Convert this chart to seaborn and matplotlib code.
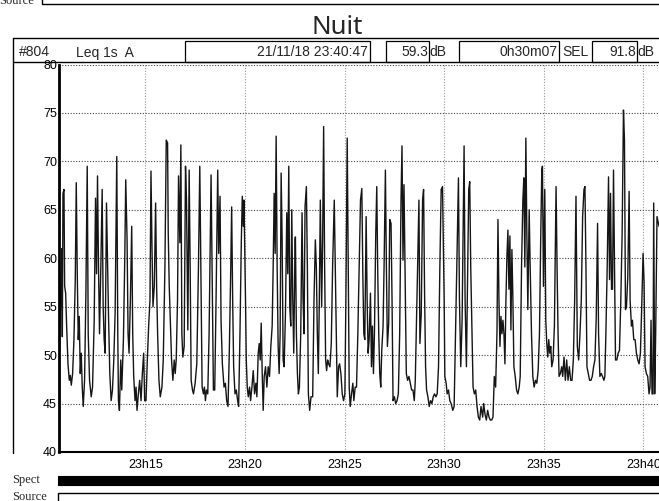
import numpy as np
import pandas as pd
import matplotlib
matplotlib.use("Agg")
import matplotlib.pyplot as plt
import seaborn as sns
from matplotlib.patches import Rectangle
from matplotlib.lines import Line2D

# ---------------- data (elapsed seconds from 23:10:40, Leq 1s A in dB) ----------------
t1 = [0,6,8,10,12,15,17,20,23,27,31,34,37,41,45,49,52,55,58,61,64,67,70,73,77,81,85,88,92,97,
      101,106,110,113,116,119,122,126,130,133,136,139,143,146,149,153,157,161,165,169,174,177,179,
      182,186,189,194,198,201,205,208,211,215,219,222,225,229,232,235,239,243,247,251,255,258,262,
      266,270,274,277,280,283,287,291,294,297,301,305,310,314,319,323,327,329,332,336,339,343,347]
db1 = [49.5,57.1,61.0,51.9,66.7,67.1,57.1,56.4,53.0,49.1,47.4,47.9,46.9,48.1,51.6,57.8,67.8,58.4,
       51.6,54.0,48.1,50.2,46.7,44.7,47.4,56.4,69.5,52.2,47.4,45.7,46.7,53.6,66.2,58.4,68.5,59.1,
       52.2,59.1,67.1,55.0,51.6,50.2,65.7,59.8,54.3,48.1,45.3,46.4,49.5,54.3,70.5,52.2,45.3,44.3,
       49.5,46.4,51.6,59.8,68.1,61.9,52.2,50.2,55.7,63.3,52.2,47.8,45.3,46.7,44.3,46.0,47.4,45.3,
       48.1,50.2,45.3,45.3,49.5,53.0,55.7,69.0,61.2,55.0,57.1,65.7,57.1,52.2,47.4,45.7,46.7,49.5,
       59.1,72.2,71.9,62.6,57.1,52.6,49.5,47.4,49.5]

t2 = [350,353,357,360,364,367,370,373,377,381,384,388,392,395,398,402,405,410,415,420,424,428,
      431,435,438,441,444,448,452,458,462,465,469,473,478,481,485,488,492,497,501,505,509,513,517,
      520,523,526,530,534,538,541,545,549,552,555,557,559,562,564,567,570,574,577,581,585,589,593,
      596,600,603,606,609,612,615,618,622,626,630,634,638,642,645,648,651,654,657,660,663,666,669,
      672,675,678,682,686,689,692,695,698,701,704,707,711]
db2 = [48.1,49.5,55.7,68.5,61.6,71.7,52.2,49.8,50.9,69.5,66.0,52.6,69.1,59.1,47.4,46.4,46.0,47.1,
       49.1,59.1,69.5,56.4,46.7,46.0,46.7,45.3,46.4,46.0,52.2,68.6,56.4,46.4,46.4,55.7,69.1,60.5,
       66.4,53.6,49.1,46.7,47.1,45.3,44.7,50.5,58.4,65.3,55.7,48.8,46.0,46.4,45.3,44.7,52.2,61.6,
       66.4,63.3,66.0,61.9,55.0,49.5,46.7,45.7,46.7,45.3,46.7,48.4,46.0,47.1,45.7,50.2,51.2,49.5,
       53.3,48.1,44.3,47.8,48.8,46.7,48.8,47.8,50.9,53.0,59.1,66.7,60.5,72.6,59.1,50.9,48.1,52.2,
       68.8,61.9,49.5,48.8,54.3,64.7,58.4,69.5,55.0,53.0,65.0,55.7,50.2,61.9]

t3 = [712,715,718,721,724,728,732,735,738,741,745,748,751,755,759,764,768,772,775,778,781,784,
      787,791,794,797,800,803,806,809,812,816,820,824,829,832,835,838,842,845,849,853,857,861,864,
      868,871,874,877,881,885,888,892,896,900,904,908,912,915,918,921,925,928,931,934,938,941,944,
      947,950,954,957,960,963,966,969,972,976,979,983,986,989,993,996,1000,1003,1006,1010,1014,
      1018,1022,1026,1030,1033,1036,1039,1042,1046,1050,1054,1058,1062,1066,1070,1073]
db3 = [62.2,52.2,48.1,46.0,46.7,52.2,64.7,55.7,52.2,65.3,67.4,59.1,46.0,44.3,45.7,45.7,55.7,61.9,
       59.1,52.2,48.1,55.7,66.0,55.0,61.9,73.6,59.1,49.5,48.4,49.5,49.1,48.8,51.2,59.1,66.0,59.1,
       52.2,45.7,48.8,49.1,48.1,46.0,45.3,46.0,55.7,72.4,59.1,46.7,44.7,46.0,47.1,45.3,46.7,46.7,
       52.2,59.1,66.0,67.2,58.4,52.2,51.6,64.3,55.7,50.2,51.6,56.4,48.8,53.0,48.1,52.2,62.6,67.4,
       58.4,52.2,48.1,46.7,50.5,53.0,59.1,69.1,59.1,50.9,53.3,64.0,63.6,55.7,45.3,45.7,45.0,45.3,
       46.0,52.2,66.0,71.6,59.8,67.6,59.1,48.1,47.4,47.8,47.1,46.4,46.4,45.3,47.4]

t4 = [1076,1080,1084,1087,1091,1095,1098,1101,1104,1107,1111,1115,1119,1123,1127,1131,1135,1139,
      1143,1147,1151,1155,1157,1160,1162,1166,1169,1173,1177,1181,1186,1190,1194,1198,1203,1206,
      1210,1214,1217,1220,1223,1227,1231,1234,1237,1240,1244,1247,1251,1255,1259,1263,1267,1271,
      1276,1279,1283,1287,1291,1295,1299,1303,1307,1311,1315,1319,1322,1325,1328,1331,1334,1337,
      1340,1343,1346,1349,1352,1355,1358,1361,1364,1367,1370,1374,1378,1382,1386,1389,1393,1397,
      1400,1403,1406,1409,1412,1416,1419,1423,1427,1431,1435]
db4 = [52.2,59.1,66.0,51.2,54.3,66.0,67.1,56.4,48.8,46.4,45.7,44.7,45.3,45.0,45.7,46.0,45.7,46.0,
       48.8,59.1,67.1,67.4,62.6,55.7,47.8,47.1,46.0,46.4,45.3,45.0,44.3,44.7,52.2,59.1,68.3,55.7,
       48.8,53.6,62.6,71.6,55.7,48.8,59.1,67.1,67.9,59.1,52.2,46.7,46.0,46.4,44.7,43.6,43.3,44.7,
       43.6,45.0,43.9,43.3,44.3,43.6,43.3,43.3,43.6,47.8,46.7,52.2,64.0,55.7,50.9,54.0,52.2,53.6,
       52.2,49.1,55.7,60.2,62.9,56.8,62.3,52.6,60.9,55.7,48.8,47.8,46.4,46.0,46.7,47.8,59.1,66.0,
       68.3,59.1,72.4,62.6,54.7,65.0,59.1,52.2,47.8,46.7,47.4]

t5 = [1439,1443,1447,1451,1454,1456,1459,1463,1466,1469,1472,1475,1478,1481,1484,1488,1492,1497,
      1500,1503,1506,1510,1514,1517,1521,1525,1529,1533,1537,1541,1545,1549,1553,1557,1561,1565,
      1569,1573,1577,1581,1584,1587,1590,1594,1598,1602,1606,1610,1614,1618,1622,1625,1629,1633,
      1637,1641,1644,1647,1651,1655,1658,1661,1664,1667,1670,1673,1676,1680,1684,1688,1692,1696,
      1700,1703,1706,1709,1713,1717,1720,1724,1727,1731,1735,1739,1743,1747,1751,1755,1759,1762,
      1765,1769,1773,1777,1780,1783,1786,1789,1791,1794,1797,1801,1807]
db5 = [47.1,48.4,52.2,62.6,69.1,69.5,57.1,67.1,53.6,51.2,49.8,51.6,50.2,50.9,48.8,49.5,53.0,67.4,
       59.1,52.2,47.8,48.1,48.8,47.8,49.8,47.4,49.5,47.4,48.8,47.4,47.4,49.5,55.7,66.4,50.9,49.5,
       52.2,55.7,64.3,67.1,67.4,59.1,48.8,48.1,47.4,47.4,47.8,48.8,49.5,53.9,63.6,52.2,47.8,48.1,
       47.8,47.4,47.8,52.2,59.1,68.4,57.8,66.7,56.8,56.8,69.1,59.8,49.5,49.5,50.2,50.5,55.7,62.6,
       75.3,72.2,54.7,55.0,58.1,66.9,55.7,53.0,53.6,51.6,51.6,50.2,49.5,49.1,50.2,55.0,60.5,57.6,
       48.8,48.1,47.8,46.0,46.7,53.6,46.0,46.0,65.7,46.0,52.2,64.3,63.3]

start_min = 10 + 40 / 60          # 23:10:40 in minutes after 23h
duration_s = 1807                 # 0h30m07
x_ticks = [15, 20, 25, 30, 35, 40]
x_tick_labels = ["23h15", "23h20", "23h25", "23h30", "23h35", "23h40"]
y_ticks = [40, 45, 50, 55, 60, 65, 70, 75, 80]

title = "Nuit"
header_left = ["#804", "Leq 1s  A"]
header_date = "21/11/18 23:40:47"
header_leq = "59.3"
header_dur = "0h30m07"
header_sel = "91.8"

# ---------------- build frame ----------------
secs = t1 + t2 + t3 + t4 + t5
dbs = db1 + db2 + db3 + db4 + db5
assert len(secs) == len(dbs)
df = pd.DataFrame({"minute": start_min + np.array(secs) / 60.0, "leq": dbs})

W, H = 659, 501
sns.set_style("white")
plt.rcParams["font.family"] = ["Liberation Sans", "DejaVu Sans"]
fig = plt.figure(figsize=(W / 100, H / 100), dpi=100)


def fx(px):
    return px / W


def fy(py):
    return 1 - py / H


# main axes
ax_l, ax_r, ax_t, ax_b = 59, 659, 64.5, 452
ax = fig.add_axes([fx(ax_l), fy(ax_b), (ax_r - ax_l) / W, (ax_b - ax_t) / H])
sns.lineplot(data=df, x="minute", y="leq", ax=ax, color="#151515", lw=1.0,
             estimator=None, sort=False)
ax.set_xlim(start_min, start_min + duration_s / 60)
ax.set_ylim(40, 80)
ax.set_xticks(x_ticks)
ax.set_xticklabels(x_tick_labels)
ax.set_yticks(y_ticks)
ax.set_yticklabels([str(v) for v in y_ticks])
ax.set_xlabel("")
ax.set_ylabel("")
ax.tick_params(axis="both", length=0, labelsize=9, colors="black")
ax.tick_params(axis="y", pad=1.5)
ax.tick_params(axis="x", pad=5)
ax.yaxis.grid(True, color="#444444", linestyle=(0, (1, 1.5)), lw=0.8)
ax.xaxis.grid(True, color="#9a9a9a", linestyle=(0, (1, 1.5)), lw=0.8)
for s in ["top", "right"]:
    ax.spines[s].set_visible(False)
ax.spines["left"].set_color("black")
ax.spines["left"].set_linewidth(2.0)
ax.spines["bottom"].set_color("black")
ax.spines["bottom"].set_linewidth(1.5)

# ---------------- figure decorations ----------------
tf = fig.transFigure


def rect(x0, y0, x1, y1, **kw):
    fig.patches.append(Rectangle((fx(x0), fy(y1)), (x1 - x0) / W, (y1 - y0) / H,
                                 transform=tf, **kw))


def hline(x0, x1, y, lw=1.0, color="black"):
    fig.lines.append(Line2D([fx(x0), fx(x1)], [fy(y), fy(y)], transform=tf, lw=lw, color=color))


def vline(x, y0, y1, lw=1.0, color="black"):
    fig.lines.append(Line2D([fx(x), fx(x)], [fy(y0), fy(y1)], transform=tf, lw=lw, color=color))


# top partial "Source" strip from previous panel
rect(42, -6, 661, 4, fill=False, edgecolor="black", lw=1.0)
fig.text(fx(-1), fy(3.5), "Source", family=["Liberation Serif", "DejaVu Serif"], fontsize=9,
         ha="left", va="baseline")

# title
fig.text(fx(337.5), fy(33.5), title, family=["Noto Sans", "DejaVu Sans"], fontsize=18.5,
         ha="center", va="baseline")

# header row
hy0, hy1, iy0 = 37.8, 61.8, 40.7
hline(13, 660, hy0)
hline(13, 660, hy1)
vline(13, hy0, 453)
base = 56.5
fs = 10
fig.text(fx(19), fy(base), header_left[0], fontsize=fs, ha="left", va="baseline")
fig.text(fx(76), fy(base), header_left[1], fontsize=fs, ha="left", va="baseline")
for (x0, x1) in [(185, 370), (386, 429), (459, 559), (592, 637)]:
    rect(x0, iy0, x1, hy1, fill=False, edgecolor="black", lw=0.9)
fig.text(fx(368), fy(base), header_date, fontsize=fs, ha="right", va="baseline")
fig.text(fx(428), fy(base), header_leq, fontsize=fs, ha="right", va="baseline")
fig.text(fx(429.5), fy(base), "dB", fontsize=fs, ha="left", va="baseline")
fig.text(fx(557.5), fy(base), header_dur, fontsize=fs, ha="right", va="baseline")
fig.text(fx(562), fy(base), "SEL", fontsize=fs, ha="left", va="baseline")
fig.text(fx(636), fy(base), header_sel, fontsize=fs, ha="right", va="baseline")
fig.text(fx(637.5), fy(base), "dB", fontsize=fs, ha="left", va="baseline")

# bottom strips
serif = ["Liberation Serif", "DejaVu Serif"]
rect(58, 475.5, 661, 484.5, facecolor="black", edgecolor="black", lw=0.8)
fig.text(fx(12), fy(483.5), "Spect", family=serif, fontsize=9, ha="left", va="baseline")
rect(58, 492.5, 661, 502, fill=False, edgecolor="black", lw=1.0)
fig.text(fx(12), fy(500.5), "Source", family=serif, fontsize=9, ha="left", va="baseline")

fig.savefig("out.png", dpi=100)
